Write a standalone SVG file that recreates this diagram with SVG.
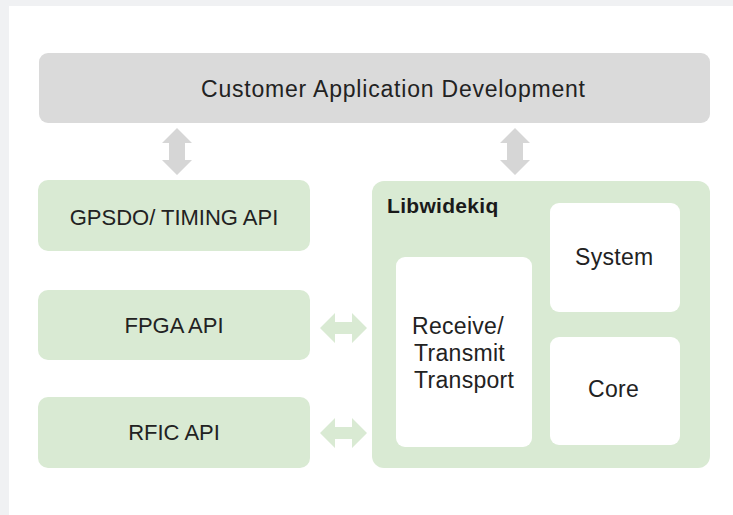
<svg xmlns="http://www.w3.org/2000/svg" width="733" height="515" viewBox="0 0 733 515">
<style>
.t{font-family:"Liberation Sans",Arial,sans-serif;font-size:22px;fill:#222;text-anchor:middle}
.i{font-family:"Liberation Sans",Arial,sans-serif;font-size:23px;fill:#222;letter-spacing:0.3px}
.b{font-family:"Liberation Sans",Arial,sans-serif;font-size:21px;font-weight:bold;fill:#1a1a1a;letter-spacing:0.3px}
.g{fill:#d9ead3}
.w{fill:#ffffff}
.ga{fill:#d6d6d6}
.gr{fill:#d9ead3}
</style>
<defs>
<path id="va" d="M0,0 L15,15 L8,15 L8,32 L15,32 L0,47 L-15,32 L-8,32 L-8,15 L-15,15 Z"/>
<path id="ha" d="M0,0 L15,-15 L15,-6 L32,-6 L32,-15 L47,0 L32,15 L32,6 L15,6 L15,15 Z"/>
</defs>
<rect x="0" y="0" width="733" height="515" fill="#f0f1f3"/>
<rect x="9" y="6" width="724" height="509" fill="#ffffff"/>
<g id="connectors">
<use href="#va" x="177" y="128" class="ga"/>
<use href="#va" x="515" y="128" class="ga"/>
<use href="#ha" x="320" y="328" class="gr"/>
<use href="#ha" x="320" y="433" class="gr"/>
</g>
<g id="customer">
<rect x="39" y="53" width="671" height="70" rx="9" fill="#dadada"/>
<text class="t" x="201" y="97" style="font-size:23px;text-anchor:start" textLength="384" lengthAdjust="spacing">Customer Application Development</text>
</g>
<g id="gpsdo">
<rect x="38" y="180" width="272" height="71" rx="10" class="g"/>
<text class="t" x="174" y="225">GPSDO/ TIMING API</text>
</g>
<g id="fpga">
<rect x="38" y="290" width="272" height="70" rx="10" class="g"/>
<text class="t" x="174" y="333">FPGA API</text>
</g>
<g id="rfic">
<rect x="38" y="397" width="272" height="71" rx="10" class="g"/>
<text class="t" x="174" y="440">RFIC API</text>
</g>
<g id="libwidekiq">
<rect x="372" y="181" width="338" height="287" rx="12" class="g"/>
<text class="b" x="387" y="213">Libwidekiq</text>
</g>
<g id="transport">
<rect x="396" y="257" width="136" height="190" rx="9" class="w"/>
<text class="i" x="412" y="334">Receive/</text>
<text class="i" x="414" y="361">Transmit</text>
<text class="i" x="414" y="388">Transport</text>
</g>
<g id="system">
<rect x="550" y="203" width="130" height="109" rx="9" class="w"/>
<text class="i" x="575" y="265">System</text>
</g>
<g id="core">
<rect x="550" y="337" width="130" height="108" rx="9" class="w"/>
<text class="i" x="588" y="397">Core</text>
</g>
</svg>
